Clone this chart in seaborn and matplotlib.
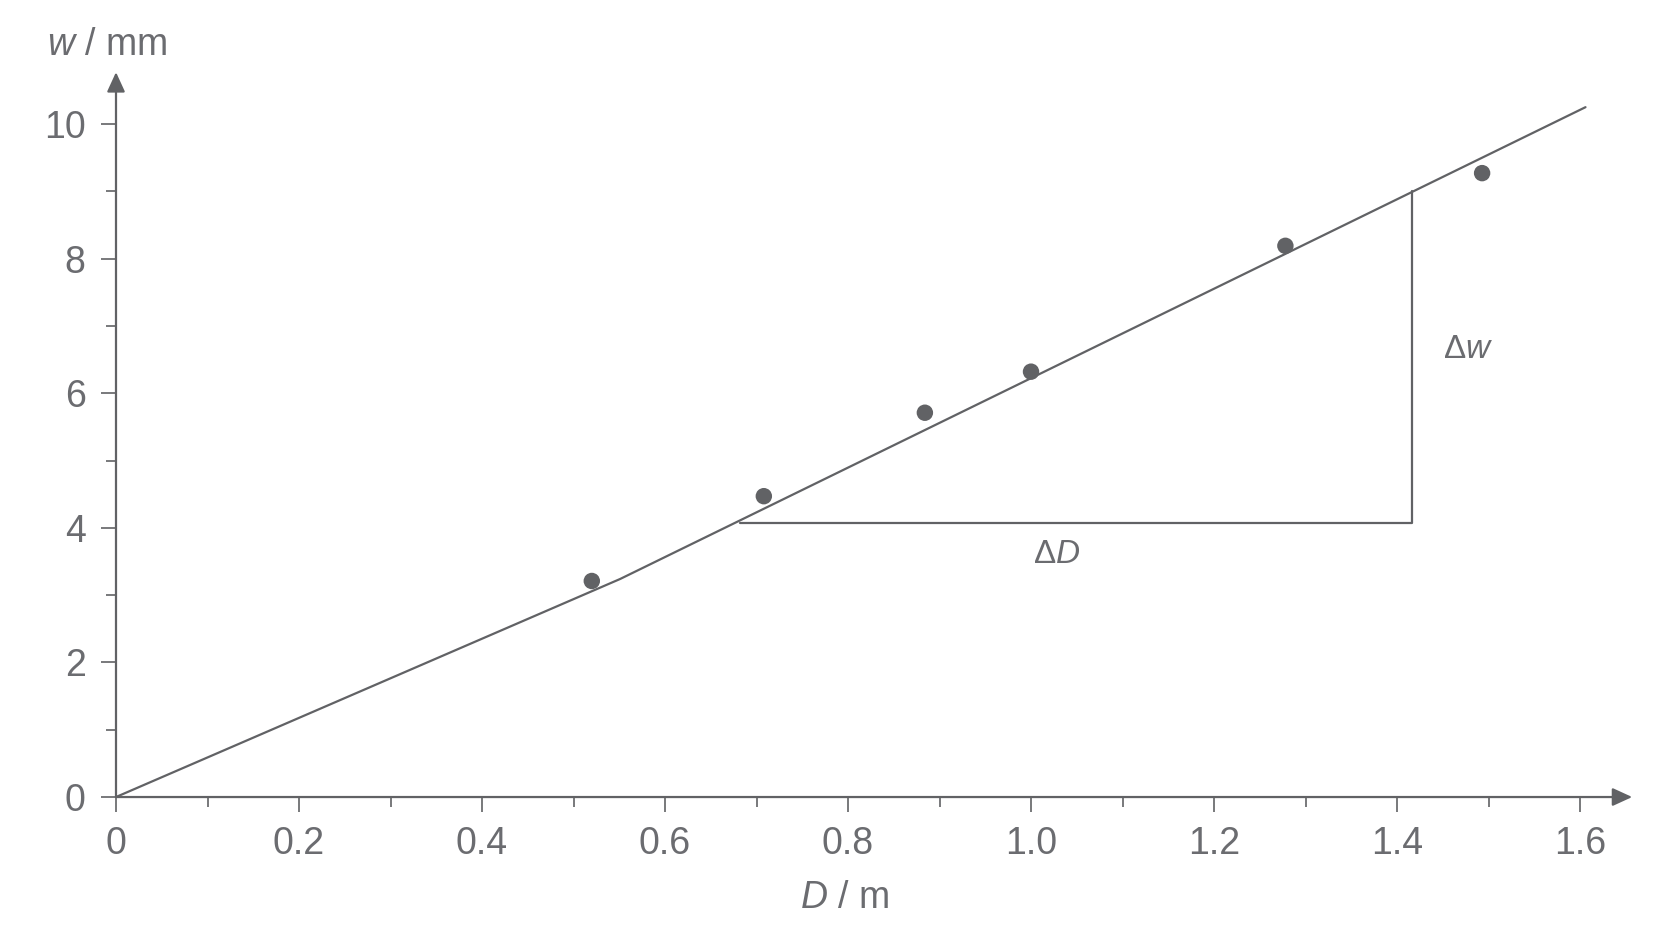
import matplotlib
matplotlib.use("Agg")
import matplotlib.pyplot as plt
import seaborn as sns
import pandas as pd
from matplotlib.ticker import MultipleLocator

# ---- data ----
D_points = [0.52, 0.708, 0.884, 1.00, 1.278, 1.493]
w_points = [3.21, 4.47, 5.71, 6.32, 8.19, 9.27]

line_D = [0.0, 0.551, 1.606]
line_w = [0.0, 3.24, 10.25]

tri_D = [0.682, 1.416, 1.416]
tri_w = [4.07, 4.07, 9.00]

x_ticks = [0, 0.2, 0.4, 0.6, 0.8, 1.0, 1.2, 1.4, 1.6]
x_ticklabels = ["0", "0.2", "0.4", "0.6", "0.8", "1.0", "1.2", "1.4", "1.6"]
y_ticks = [0, 2, 4, 6, 8, 10]
y_ticklabels = ["0", "2", "4", "6", "8", "10"]

sns.set_theme(style="white")
plt.rcParams["font.family"] = ["Liberation Sans", "DejaVu Sans"]
plt.rcParams["mathtext.fontset"] = "custom"
plt.rcParams["mathtext.rm"] = "Liberation Sans"
plt.rcParams["mathtext.it"] = "Liberation Sans:italic"
plt.rcParams["mathtext.bf"] = "Liberation Sans:bold"

GRAY = "#616265"
TEXT = "#6b6c70"
LW = 1.6

fig = plt.figure(figsize=(16.72, 9.41), dpi=100)
ax = fig.add_axes([0.06938, 0.1530, 0.9068, 0.7703])
xmax, ymax = 1.657, 10.77
ax.set_xlim(0, xmax)
ax.set_ylim(0, ymax)

pts = pd.DataFrame({"D": D_points, "w": w_points})
line = pd.DataFrame({"D": line_D, "w": line_w})
tri = pd.DataFrame({"D": tri_D, "w": tri_w})

sns.lineplot(data=line, x="D", y="w", sort=False, estimator=None, errorbar=None,
             color=GRAY, lw=LW, ax=ax)
sns.lineplot(data=tri, x="D", y="w", sort=False, estimator=None, errorbar=None,
             color=GRAY, lw=LW, ax=ax)
sns.scatterplot(data=pts, x="D", y="w", color=GRAY, s=140, edgecolor="none", ax=ax, zorder=5)

for s in ax.spines.values():
    s.set_visible(False)

arrow = dict(arrowstyle="-|>,head_length=1.2,head_width=0.55", color=GRAY, lw=LW,
             mutation_scale=10, shrinkA=0, shrinkB=0)
ax.annotate("", xy=(xmax, 0), xytext=(0, 0), arrowprops=arrow, annotation_clip=False)
ax.annotate("", xy=(0, ymax), xytext=(0, 0), arrowprops=arrow, annotation_clip=False)

ax.set_xticks(x_ticks)
ax.set_xticklabels(x_ticklabels)
ax.set_yticks(y_ticks)
ax.set_yticklabels(y_ticklabels)
ax.xaxis.set_minor_locator(MultipleLocator(0.1))
ax.yaxis.set_minor_locator(MultipleLocator(1))
ax.tick_params(axis="both", which="major", direction="out", length=10.8, width=1.2,
               color=GRAY, labelcolor=TEXT, labelsize=27, bottom=True, left=True)
ax.tick_params(axis="both", which="minor", direction="out", length=7.2, width=1.2,
               color=GRAY, bottom=True, left=True)
ax.tick_params(axis="x", which="major", pad=10)
ax.tick_params(axis="y", which="major", pad=11)
ax.set_xlabel("")
ax.set_ylabel("")
ax.grid(False)

fig.text(0.064, 0.952, r"$w$ / mm", ha="center", va="center", fontsize=27, color=TEXT)
fig.text(0.5054, 0.0457, r"$D$ / m", ha="center", va="center", fontsize=27, color=TEXT)

ax.text(1.028, 3.61, r"$\Delta D$", ha="center", va="center", fontsize=24, color=TEXT)
ax.text(1.478, 6.65, r"$\Delta w$", ha="center", va="center", fontsize=24, color=TEXT)

fig.savefig("out.png", dpi=100, facecolor="white")
